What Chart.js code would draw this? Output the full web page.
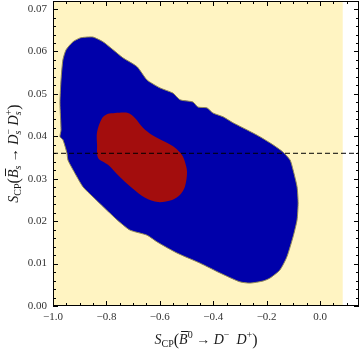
<!DOCTYPE html>
<html>
<head>
<meta charset="utf-8">
<script src="https://cdn.jsdelivr.net/npm/chart.js@4.4.0/dist/chart.umd.min.js"></script>
<style>
  html, body { margin: 0; padding: 0; background: #fff; }
</style>
</head>
<body>
<canvas id="regionChart" width="360" height="353"></canvas>
<script>
// Axis ranges and tick labels
const xRange = [-1.0, 0.146];
const yRange = [0.0, 0.0719];
const xTicks = [-1.0, -0.8, -0.6, -0.4, -0.2, 0.0];
const yTicks = [0.00, 0.01, 0.02, 0.03, 0.04, 0.05, 0.06, 0.07];

// Allowed parameter region (yellow)
const allowedX = [-1.0, 0.085, 0.085, -1.0];
const allowedY = [0.0, 0.0, 0.0719, 0.0719];

// Outer (blue) region boundary
const blueX = [-0.873, -0.850, -0.813, -0.775, -0.738, -0.685, -0.648, -0.599, -0.551, -0.524,
  -0.476, -0.457, -0.423, -0.401, -0.363, -0.326, -0.273, -0.225, -0.176, -0.139,
  -0.112, -0.101, -0.086, -0.082, -0.086, -0.101, -0.124, -0.150, -0.187, -0.213,
  -0.262, -0.300, -0.375, -0.449, -0.536, -0.610, -0.648, -0.712, -0.760, -0.787,
  -0.850, -0.888, -0.925, -0.944, -0.948, -0.963, -0.974, -0.970, -0.974, -0.970,
  -0.963, -0.951, -0.925, -0.898];
const blueY = [0.0634, 0.0634, 0.0623, 0.0604, 0.0585, 0.0564, 0.0533, 0.0514, 0.0502, 0.0486,
  0.0481, 0.0469, 0.0467, 0.0455, 0.0446, 0.0432, 0.0415, 0.0399, 0.0380, 0.0363,
  0.0344, 0.0321, 0.0281, 0.0243, 0.0203, 0.0163, 0.0116, 0.0085, 0.0066, 0.0059,
  0.0054, 0.0057, 0.0078, 0.0101, 0.0125, 0.0151, 0.0167, 0.0179, 0.0203, 0.0219,
  0.0257, 0.0281, 0.0321, 0.0344, 0.0361, 0.0392, 0.0399, 0.0415, 0.0479, 0.0533,
  0.0580, 0.0604, 0.0623, 0.0632];

// Inner (red) region boundary
const redX = [-0.768, -0.719, -0.693, -0.663, -0.629, -0.581, -0.543, -0.517, -0.506, -0.498,
  -0.506, -0.524, -0.554, -0.607, -0.655, -0.704, -0.757, -0.794, -0.831, -0.835,
  -0.835, -0.816, -0.794];
const redY = [0.0455, 0.0455, 0.0443, 0.0420, 0.0403, 0.0387, 0.0373, 0.0356, 0.0340, 0.0316,
  0.0281, 0.0262, 0.0250, 0.0245, 0.0255, 0.0278, 0.0309, 0.0333, 0.0349, 0.0380,
  0.0410, 0.0443, 0.0453];

// Experimental value (dashed line)
const refLineY = 0.036;

const serif = '"Liberation Serif", "DejaVu Serif", serif';

const toPoints = (xs, ys) => {
    const pts = xs.map((x, i) => ({ x: x, y: ys[i] }));
    pts.push({ x: xs[0], y: ys[0] });
    return pts;
};

const fmt = (v, d) => (v < -1e-9 ? '\u2212' : '') + Math.abs(v).toFixed(d);

// Draw a list of text pieces (italic, sub/superscripts) centred at (cx, cy)
const drawRich = (ctx, pieces, cx, cy, rot) => {
    const fontOf = p => (p.it ? 'italic ' : '') + (p.sz || 14) + 'px ' + serif;
    let total = 0;
    pieces.forEach(p => {
        ctx.font = fontOf(p);
        p.w = ctx.measureText(p.t).width;
        if (p.sub2) {
            ctx.font = 'italic 10px ' + serif;
            p.w = Math.max(p.w, ctx.measureText(p.sub2).width);
        }
        total += p.w;
    });
    ctx.save();
    ctx.translate(cx, cy);
    ctx.rotate(rot);
    ctx.fillStyle = '#1a1a1a';
    ctx.strokeStyle = '#1a1a1a';
    ctx.textBaseline = 'alphabetic';
    ctx.textAlign = 'left';
    let x = -total / 2;
    pieces.forEach(p => {
        ctx.font = fontOf(p);
        ctx.fillText(p.t, x, p.dy || 0);
        if (p.sub2) {
            ctx.font = 'italic 10px ' + serif;
            ctx.fillText(p.sub2, x, 3);
        }
        if (p.ov) {
            ctx.lineWidth = 1;
            ctx.beginPath();
            ctx.moveTo(x + 2, -12.5);
            ctx.lineTo(x + p.w + 1, -12.5);
            ctx.stroke();
        }
        x += p.w;
    });
    ctx.restore();
};

const xTitle = [
    { t: 'S', it: true }, { t: 'CP', sz: 10, dy: 3 }, { t: '(', sz: 16, dy: 1 },
    { t: 'B', it: true, ov: true }, { t: '0', sz: 10, dy: -6 }, { t: ' \u2192 ' },
    { t: 'D', it: true }, { t: '\u2212', sz: 10, dy: -6 }, { t: '  ' },
    { t: 'D', it: true }, { t: '+', sz: 10, dy: -6 }, { t: ')', sz: 16, dy: 1 }
];
const yTitle = [
    { t: 'S', it: true }, { t: 'CP', sz: 10, dy: 3 }, { t: '(', sz: 16, dy: 1 },
    { t: 'B', it: true, ov: true }, { t: 's', it: true, sz: 10, dy: 3 }, { t: ' \u2192 ' },
    { t: 'D', it: true }, { t: '\u2212', sz: 10, dy: -6, sub2: 's' }, { t: ' ' },
    { t: 'D', it: true }, { t: '+', sz: 10, dy: -6, sub2: 's' }, { t: ')', sz: 16, dy: 1 }
];

// Frame with inward ticks on all four sides, plus axis titles
const framePlugin = {
    id: 'frame',
    afterDatasetsDraw(chart) {
        const { ctx, chartArea: a, scales: { x, y } } = chart;
        ctx.save();
        ctx.strokeStyle = '#000';
        ctx.lineWidth = 1;
        ctx.strokeRect(a.left + 0.5, a.top + 0.5, a.right - a.left - 1, a.bottom - a.top - 1);
        ctx.beginPath();
        for (let i = -20; i <= 3; i++) {
            const v = i * 0.05;
            if (v < xRange[0] - 1e-9 || v > xRange[1]) continue;
            const px = Math.round(x.getPixelForValue(v)) + 0.5;
            const len = i % 4 === 0 ? 5 : 3;
            ctx.moveTo(px, a.bottom); ctx.lineTo(px, a.bottom - len);
            ctx.moveTo(px, a.top); ctx.lineTo(px, a.top + len);
        }
        for (let i = 0; i <= 36; i++) {
            const v = i * 0.002;
            if (v > yRange[1]) continue;
            const py = Math.round(y.getPixelForValue(v)) + 0.5;
            const len = i % 5 === 0 ? 5 : 3;
            ctx.moveTo(a.left, py); ctx.lineTo(a.left + len, py);
            ctx.moveTo(a.right, py); ctx.lineTo(a.right - len, py);
        }
        ctx.stroke();
        ctx.restore();
    },
    afterDraw(chart) {
        const { ctx, chartArea: a } = chart;
        drawRich(ctx, xTitle, (a.left + a.right) / 2, 344, 0);
        drawRich(ctx, yTitle, 18, (a.top + a.bottom) / 2, -Math.PI / 2);
    }
};

const ctx = document.getElementById('regionChart').getContext('2d');
new Chart(ctx, {
    type: 'scatter',
    data: {
        datasets: [{
            label: 'measured',
            data: [{ x: xRange[0], y: refLineY }, { x: xRange[1], y: refLineY }],
            showLine: true,
            borderColor: '#000',
            borderWidth: 1,
            borderDash: [5, 3],
            pointRadius: 0,
            fill: false,
            order: 0
        }, {
            label: 'inner',
            data: toPoints(redX, redY),
            showLine: true,
            borderWidth: 0,
            borderColor: 'rgba(0,0,0,0)',
            backgroundColor: '#A30D0D',
            pointRadius: 0,
            fill: 'shape',
            tension: 0.3,
            order: 1
        }, {
            label: 'outer',
            data: toPoints(blueX, blueY),
            showLine: true,
            borderWidth: 1,
            borderColor: '#8f8757',
            backgroundColor: '#0000AA',
            pointRadius: 0,
            fill: 'shape',
            tension: 0.2,
            order: 2
        }, {
            label: 'allowed',
            data: toPoints(allowedX, allowedY),
            showLine: true,
            borderWidth: 0,
            borderColor: 'rgba(0,0,0,0)',
            backgroundColor: '#FFF4C2',
            pointRadius: 0,
            fill: 'shape',
            order: 3
        }]
    },
    options: {
        responsive: false,
        animation: false,
        devicePixelRatio: 1,
        layout: { padding: { top: 1, right: 1, left: 0, bottom: 0 } },
        plugins: {
            legend: { display: false },
            tooltip: { enabled: false }
        },
        scales: {
            x: {
                type: 'linear',
                min: xRange[0],
                max: xRange[1],
                afterBuildTicks: s => { s.ticks = xTicks.map(v => ({ value: v })); },
                afterFit: s => { s.height = 47; s.paddingLeft = 0; s.paddingRight = 0; },
                grid: { display: false, drawTicks: false },
                border: { display: false },
                ticks: {
                    callback: v => fmt(v, 1),
                    font: { family: serif, size: 11 },
                    color: '#333',
                    padding: 5,
                    maxRotation: 0,
                    autoSkip: false
                }
            },
            y: {
                type: 'linear',
                min: yRange[0],
                max: yRange[1],
                afterBuildTicks: s => { s.ticks = yTicks.map(v => ({ value: v })); },
                afterFit: s => { s.width = 53; s.paddingTop = 0; s.paddingBottom = 0; },
                grid: { display: false, drawTicks: false },
                border: { display: false },
                ticks: {
                    callback: v => fmt(v, 2),
                    font: { family: serif, size: 11 },
                    color: '#333',
                    padding: 6,
                    autoSkip: false
                }
            }
        }
    },
    plugins: [framePlugin]
});
</script>
</body>
</html>
